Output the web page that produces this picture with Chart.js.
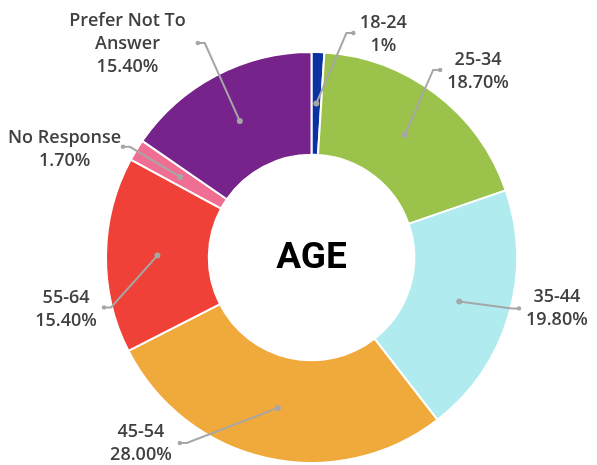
<!DOCTYPE html>
<html>
<head>
<meta charset="utf-8">
<script src="https://cdn.jsdelivr.net/npm/chart.js@4.4.0/dist/chart.umd.min.js"></script>
<style>
    html, body { margin: 0; padding: 0; background: #ffffff; }
    #wrap { width: 597px; height: 465px; position: relative; }
</style>
</head>
<body>
<div id="wrap">
    <canvas id="ageChart" width="597" height="465"></canvas>
</div>
<script>
// age groups and share of respondents (%)
let ageLabels = ['18-24', '25-34', '35-44', '45-54', '55-64', 'No Response', 'Prefer Not To Answer'];
let ageValues = [1, 18.7, 19.8, 28.0, 15.4, 1.7, 15.4];
let valueText = ['1%', '18.70%', '19.80%', '28.00%', '15.40%', '1.70%', '15.40%'];
let labelLines = [['18-24'], ['25-34'], ['35-44'], ['45-54'], ['55-64'], ['No Response'], ['Prefer Not To', 'Answer']];
let sliceColors = ['#0a32a0', '#9bc34b', '#afebef', '#f0a93b', '#ef4137', '#f06e93', '#76248b'];

// where the callout labels sit, relative to the doughnut centre (px at radius 206)
let labelEnds = [[42, -225], [129, -188], [208, 51], [-132, 186], [-208, 50], [-189, -111], [-114, -215]];
let labelCenters = [[72, -223.5], [167, -186.5], [246, 51], [-171, 186.5], [-246, 51.5], [-247.5, -108.5], [-184.5, -214]];

let calloutPlugin = {
    id: 'callouts',
    afterDraw: function (chart) {
        let ctx = chart.ctx;
        let meta = chart.getDatasetMeta(0);
        let arcs = meta.data;
        if (!arcs.length) return;
        let cx = arcs[0].x, cy = arcs[0].y;
        let scale = arcs[0].outerRadius / 206;

        ctx.save();
        // centre title
        ctx.fillStyle = '#000000';
        ctx.font = 'bold 37px Roboto';
        ctx.textAlign = 'center';
        ctx.textBaseline = 'middle';
        ctx.fillText('AGE', cx, cy + 1);

        arcs.forEach(function (arc, i) {
            let mid = (arc.startAngle + arc.endAngle) / 2;
            let r = (arc.innerRadius + arc.outerRadius) / 2;
            let sx = cx + Math.cos(mid) * r;
            let sy = cy + Math.sin(mid) * r;
            let ex = cx + labelEnds[i][0] * scale;
            let ey = cy + labelEnds[i][1] * scale;
            let tx = cx + labelCenters[i][0] * scale;
            let ty = cy + labelCenters[i][1] * scale;
            let side = tx > ex ? 1 : -1;
            let bx = ex - side * 7;

            ctx.strokeStyle = '#a6a6a6';
            ctx.fillStyle = '#a6a6a6';
            ctx.lineWidth = 2;
            ctx.beginPath();
            ctx.moveTo(sx, sy);
            ctx.lineTo(bx, ey);
            ctx.lineTo(ex, ey);
            ctx.stroke();
            ctx.beginPath();
            ctx.arc(sx, sy, 3, 0, Math.PI * 2);
            ctx.fill();
            ctx.beginPath();
            ctx.arc(ex, ey, 2.2, 0, Math.PI * 2);
            ctx.fill();

            let lines = labelLines[i].concat([valueText[i]]);
            let lh = 23;
            let y0 = ty - (lines.length - 1) * lh / 2;
            ctx.fillStyle = '#404040';
            ctx.font = '600 18px "Open Sans"';
            ctx.textAlign = 'center';
            ctx.textBaseline = 'middle';
            lines.forEach(function (t, k) {
                ctx.fillText(t, tx, y0 + k * lh);
            });
        });
        ctx.restore();
    }
};

let ctx = document.getElementById('ageChart').getContext('2d');
let chart = new Chart(ctx, {
    type: 'doughnut',
    data: {
        labels: ageLabels,
        datasets: [{
            data: ageValues,
            backgroundColor: sliceColors,
            borderColor: '#ffffff',
            borderWidth: 2
        }]
    },
    options: {
        responsive: false,
        animation: false,
        cutout: '50%',
        layout: {
            padding: {top: 51, bottom: 1, left: 105, right: 79}
        },
        plugins: {
            legend: {display: false},
            tooltip: {enabled: false}
        }
    },
    plugins: [calloutPlugin]
});
</script>
</body>
</html>
